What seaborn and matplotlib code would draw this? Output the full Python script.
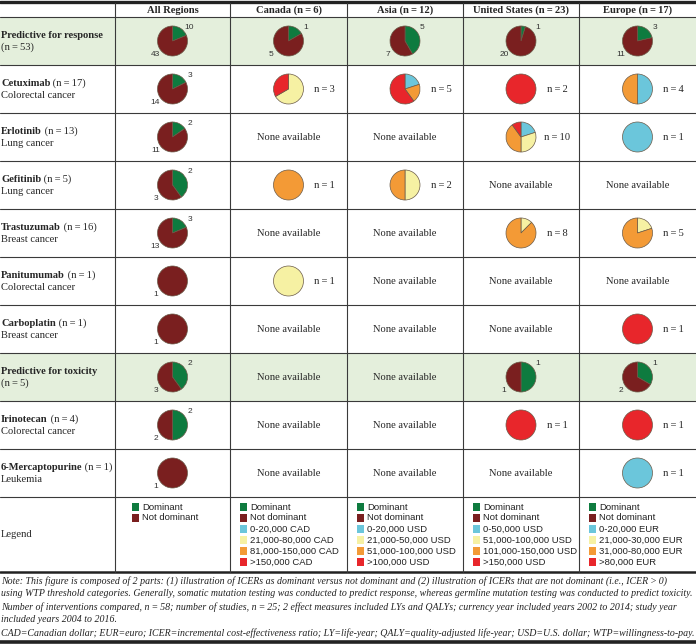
import matplotlib.pyplot as plt
from matplotlib.patches import Rectangle
import seaborn as sns

sns.set_theme(style="white")
plt.rcParams['font.family'] = ['Liberation Serif', 'DejaVu Serif']

W, H = 696, 644
TS = "\u2009"  # thin space

# ---- data ----
regions = ["All Regions", "Canada", "Asia", "United States", "Europe"]
region_n = [None, 6, 12, 23, 17]

row_names = ["Predictive for response", "Cetuximab", "Erlotinib", "Gefitinib", "Trastuzumab",
             "Panitumumab", "Carboplatin", "Predictive for toxicity", "Irinotecan", "6-Mercaptopurine"]
row_n = [53, 17, 13, 5, 16, 1, 1, 5, 4, 1]
row_sub = [None, "Colorectal cancer", "Lung cancer", "Lung cancer", "Breast cancer",
           "Colorectal cancer", "Breast cancer", None, "Colorectal cancer", "Leukemia"]

# all regions: dominant vs not dominant
all_dominant = [10, 3, 2, 2, 3, 0, 0, 2, 2, 0]
all_not_dominant = [43, 14, 11, 3, 13, 1, 1, 3, 2, 1]

# summary rows per region (Canada, Asia, US, Europe)
response_dominant = [1, 5, 1, 3]
response_not_dominant = [5, 7, 20, 11]
toxicity_dominant = [None, None, 1, 1]
toxicity_not_dominant = [None, None, 1, 2]

# WTP categories: [lowest, second, third, highest]
canada_cost = {"Cetuximab": [0, 2, 0, 1], "Gefitinib": [0, 0, 1, 0], "Panitumumab": [0, 1, 0, 0]}
asia_cost = {"Cetuximab": [1, 0, 1, 3], "Gefitinib": [0, 1, 1, 0]}
us_cost = {"Cetuximab": [0, 0, 0, 2], "Erlotinib": [2, 3, 4, 1], "Trastuzumab": [0, 1, 7, 0],
           "Irinotecan": [0, 0, 0, 1]}
europe_cost = {"Cetuximab": [2, 0, 2, 0], "Erlotinib": [1, 0, 0, 0], "Trastuzumab": [0, 1, 4, 0],
               "Carboplatin": [0, 0, 0, 1], "Irinotecan": [0, 0, 0, 1], "6-Mercaptopurine": [1, 0, 0, 0]}
region_costs = [canada_cost, asia_cost, us_cost, europe_cost]

base_legend = ["Dominant", "Not dominant"]
canada_legend = ["0-20,000 CAD", "21,000-80,000 CAD", "81,000-150,000 CAD", ">150,000 CAD"]
asia_legend = ["0-20,000 USD", "21,000-50,000 USD", "51,000-100,000 USD", ">100,000 USD"]
us_legend = ["0-50,000 USD", "51,000-100,000 USD", "101,000-150,000 USD", ">150,000 USD"]
europe_legend = ["0-20,000 EUR", "21,000-30,000 EUR", "31,000-80,000 EUR", ">80,000 EUR"]
legends = [[], canada_legend, asia_legend, us_legend, europe_legend]

note_lines = [
    f"Note: This figure is composed of 2 parts: (1) illustration of ICERs as dominant versus not dominant and (2) illustration of ICERs that are not dominant (i.e., ICER{TS}>{TS}0)",
    "using WTP threshold categories. Generally, somatic mutation testing was conducted to predict response, whereas germline mutation testing was conducted to predict toxicity.",
    f"Number of interventions compared, n{TS}={TS}58; number of studies, n{TS}={TS}25; 2 effect measures included LYs and QALYs; currency year included years 2002 to 2014; study year",
    "included years 2004 to 2016.",
    "CAD=Canadian dollar; EUR=euro; ICER=incremental cost-effectiveness ratio; LY=life-year; QALY=quality-adjusted life-year; USD=U.S. dollar; WTP=willingness-to-pay.",
]

pal = sns.color_palette(["#0E7B3F", "#7A1F1F", "#6BC6DB", "#F6F1A3", "#F39A36", "#E8262B"])
dom_colors = pal[:2]
cost_colors = pal[2:]
band = "#E4EFDC"
line_c = "#3a3a3a"

# layout (pixels)
col_x = [0, 115, 230, 347, 463, 579, 696]
row_y = [17, 65, 113, 161, 209, 257, 305, 353, 401, 449, 497, 572]
summary_rows = [0, 7]
fs = 7.6

fig = plt.figure(figsize=(W / 100, H / 100), dpi=100)
ax = fig.add_axes([0, 0, 1, 1])
ax.set_xlim(0, W)
ax.set_ylim(H, 0)
ax.axis('off')


def draw_pie(cx, cy, values, colors, r=15):
    vals = [v for v in values if v > 0]
    cols = [c for v, c in zip(values, colors) if v > 0]
    pad = 1.5
    pax = fig.add_axes([(cx - r - pad) / W, 1 - (cy + r + pad) / H, 2 * (r + pad) / W, 2 * (r + pad) / H])
    pax.pie(vals, colors=cols, startangle=90, counterclock=False, radius=1,
            wedgeprops=dict(edgecolor="#6a5a48", linewidth=0.5))
    lim = (r + pad) / r
    pax.set_xlim(-lim, lim)
    pax.set_ylim(-lim, lim)
    pax.axis('off')


def dominance_pie(cx, cy, dom, notdom):
    draw_pie(cx, cy, [dom, notdom], dom_colors)
    if dom > 0:
        ax.text(cx + 17, cy - 14, str(dom), fontsize=6, family='Liberation Sans', color='#333333',
                ha='center', va='center')
    if notdom > 0:
        ax.text(cx - 17, cy + 13, str(notdom), fontsize=6, family='Liberation Sans', color='#333333',
                ha='center', va='center')


def n_label(n):
    return f"n{TS}={TS}{n}"


# green bands
for i in summary_rows:
    ax.add_patch(Rectangle((0, row_y[i]), W, row_y[i + 1] - row_y[i], color=band, lw=0))

# grid lines
for y in row_y[:-1]:
    ax.plot([0, W], [y, y], color=line_c, lw=0.8)
ax.plot([0, W], [1.5, 1.5], color="#222222", lw=2.4)
ax.plot([0, W], [row_y[-1], row_y[-1]], color="#222222", lw=1.8)
ax.plot([0, W], [642, 642], color="#222222", lw=2.6)
for x in col_x[1:-1]:
    ax.plot([x, x], [2.5, row_y[-1]], color=line_c, lw=0.8)

# header
for j, reg in enumerate(regions):
    cx = (col_x[j + 1] + col_x[j + 2]) / 2
    label = reg if region_n[j] is None else f"{reg} ({n_label(region_n[j])})"
    ax.text(cx, 10, label, fontsize=fs, weight='bold', ha='center', va='center')

# rows
for i, name in enumerate(row_names):
    yc = (row_y[i] + row_y[i + 1]) / 2
    t = ax.text(1, yc - 6, name, fontsize=fs, weight='bold', va='center', ha='left')
    if row_sub[i] is None:
        ax.text(1, yc + 6.5, f"({n_label(row_n[i])})", fontsize=fs, va='center', ha='left')
    else:
        ax.annotate(f" ({n_label(row_n[i])})", xy=(1, 0), xycoords=t, fontsize=fs, va='bottom', ha='left')
        ax.text(1, yc + 6.5, row_sub[i], fontsize=fs, va='center', ha='left')

    cx0 = (col_x[1] + col_x[2]) / 2
    dominance_pie(cx0, yc, all_dominant[i], all_not_dominant[i])

    for k in range(4):
        left, right = col_x[k + 2], col_x[k + 3]
        cx = (left + right) / 2
        if i in summary_rows:
            dom = response_dominant[k] if i == 0 else toxicity_dominant[k]
            nd = response_not_dominant[k] if i == 0 else toxicity_not_dominant[k]
            if dom is None:
                ax.text(cx, yc, "None available", fontsize=fs, ha='center', va='center')
            else:
                dominance_pie(cx, yc, dom, nd)
        else:
            counts = region_costs[k].get(name)
            if counts is None:
                ax.text(cx, yc, "None available", fontsize=fs, ha='center', va='center')
            else:
                draw_pie(cx, yc, counts, cost_colors)
                ax.text(left + 94, yc, n_label(sum(counts)), fontsize=fs, ha='center', va='center')

# legend row
ax.text(1, (row_y[-2] + row_y[-1]) / 2, "Legend", fontsize=fs, va='center', ha='left')
for j in range(5):
    lx = col_x[j + 1] + (17 if j == 0 else 10)
    labels = base_legend + legends[j]
    colors = list(dom_colors) + (list(cost_colors) if legends[j] else [])
    for m, (lab, c) in enumerate(zip(labels, colors)):
        ly = 507 + 11 * m
        ax.add_patch(Rectangle((lx, ly - 3.7), 7.4, 7.4, color=c, lw=0))
        ax.text(lx + 10, ly, lab, fontsize=6.8, family='Liberation Sans', color='#222222',
                va='center', ha='left')

# note
for m, line in enumerate(note_lines):
    ax.text(1, 581 + 13 * m, line, fontsize=7.1, style='italic', va='center', ha='left', color='#222222')

fig.savefig("out.png", dpi=100)
